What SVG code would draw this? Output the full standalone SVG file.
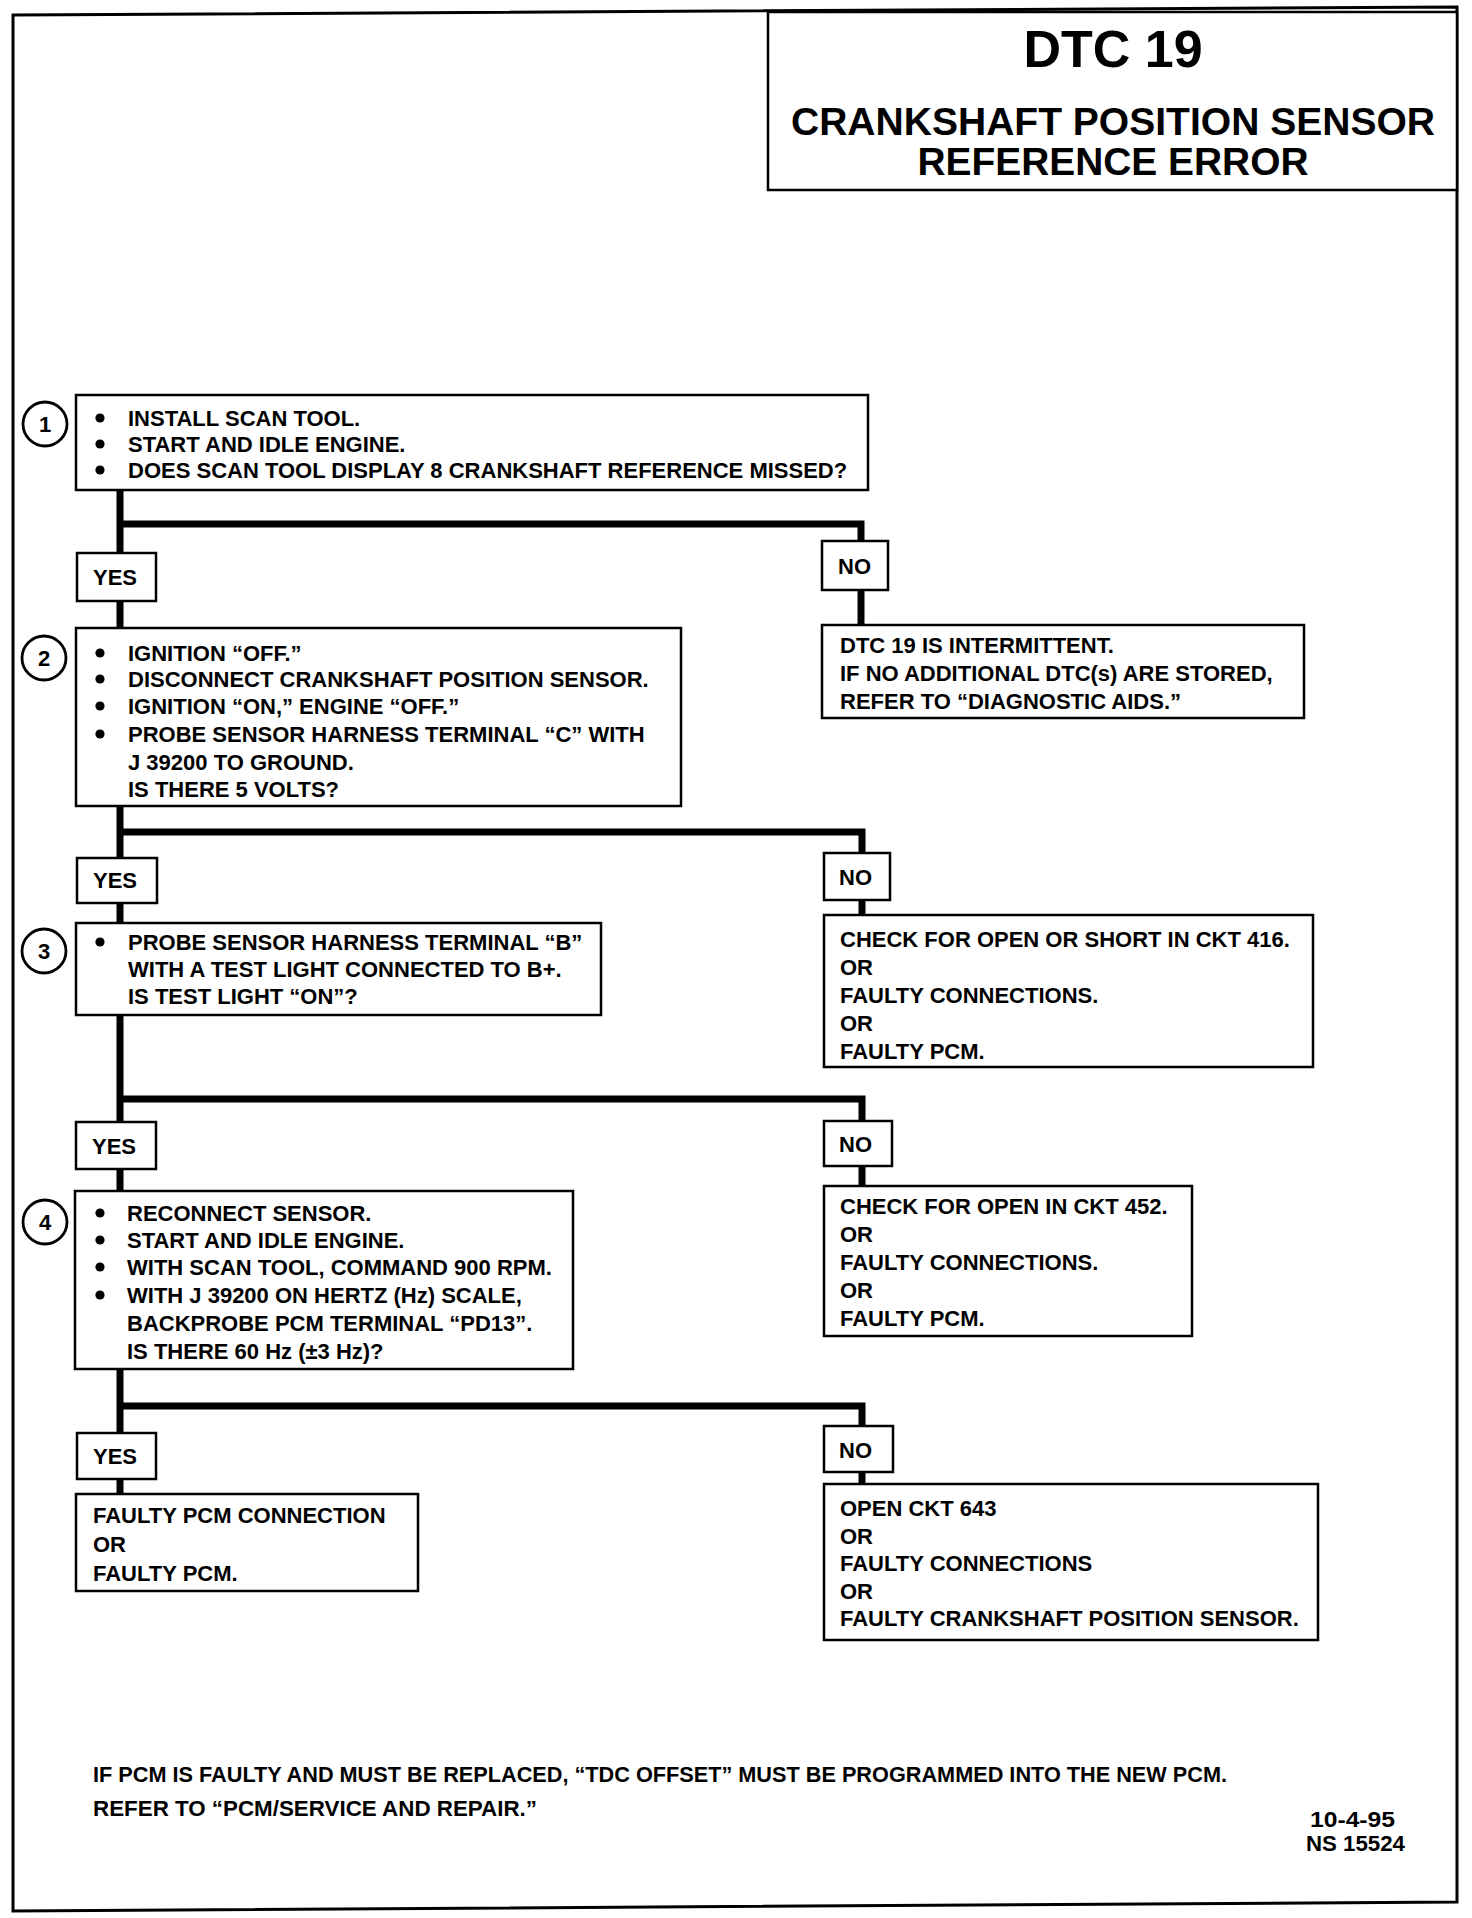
<svg xmlns="http://www.w3.org/2000/svg" width="1472" height="1918" viewBox="0 0 1472 1918">
<style>
.t{font-family:"Liberation Sans",Arial,Helvetica,sans-serif;font-weight:bold;font-size:22px;fill:#000}
.ttl{font-family:"Liberation Sans",Arial,Helvetica,sans-serif;font-weight:bold;fill:#000;text-anchor:middle}
.num{font-family:"Liberation Sans",Arial,Helvetica,sans-serif;font-weight:bold;font-size:22px;fill:#000;text-anchor:middle}
.box{fill:#fff;stroke:#000;stroke-width:2.5}
.circ{fill:#fff;stroke:#000;stroke-width:2.8}
.conn{fill:none;stroke:#000;stroke-width:7;stroke-linejoin:miter}
.frame{fill:none;stroke:#000;stroke-width:3}
</style>
<defs>
<circle id="dot" r="4.6" fill="#000"/>
</defs>
<rect x="0" y="0" width="1472" height="1918" fill="#fff"/>
<path class="frame" d="M13 15 L1457 7 L1457 1902 L13 1911 Z"/>

<g id="title">
<rect class="box" x="768" y="12" width="689" height="178"/>
<text class="ttl" x="1113" y="67" font-size="52">DTC 19</text>
<text class="ttl" x="1113" y="135" font-size="39" textLength="644" lengthAdjust="spacingAndGlyphs">CRANKSHAFT POSITION SENSOR</text>
<text class="ttl" x="1113" y="175" font-size="39" textLength="391" lengthAdjust="spacingAndGlyphs">REFERENCE ERROR</text>
</g>

<g id="connectors">
<path class="conn" d="M120 490 V628"/>
<path class="conn" d="M120 806 V923"/>
<path class="conn" d="M120 1015 V1191"/>
<path class="conn" d="M120 1369 V1494"/>
<path class="conn" d="M120 524 H861 V541"/>
<path class="conn" d="M861 590 V625"/>
<path class="conn" d="M120 832 H862 V853"/>
<path class="conn" d="M862 900 V915"/>
<path class="conn" d="M120 1099 H862 V1121"/>
<path class="conn" d="M862 1166 V1186"/>
<path class="conn" d="M120 1406 H862 V1426"/>
<path class="conn" d="M862 1472 V1484"/>
</g>

<g id="step1">
<circle class="circ" cx="45" cy="424" r="22"/>
<text class="num" x="45" y="432">1</text>
<rect class="box" x="76" y="395" width="792" height="95"/>
<use href="#dot" x="100" y="418"/>
<use href="#dot" x="100" y="444"/>
<use href="#dot" x="100" y="470"/>
<text class="t" x="128" y="426">INSTALL SCAN TOOL.</text>
<text class="t" x="128" y="452">START AND IDLE ENGINE.</text>
<text class="t" x="128" y="478">DOES SCAN TOOL DISPLAY 8 CRANKSHAFT REFERENCE MISSED?</text>
</g>

<g id="yes1">
<rect class="box" x="77" y="553" width="79" height="48"/>
<text class="t" x="93" y="585">YES</text>
</g>
<g id="no1">
<rect class="box" x="822" y="541" width="66" height="49"/>
<text class="t" x="838" y="574">NO</text>
</g>
<g id="intermittent">
<rect class="box" x="822" y="625" width="482" height="93"/>
<text class="t" x="840" y="653">DTC 19 IS INTERMITTENT.</text>
<text class="t" x="840" y="681">IF NO ADDITIONAL DTC(s) ARE STORED,</text>
<text class="t" x="840" y="709">REFER TO “DIAGNOSTIC AIDS.”</text>
</g>

<g id="step2">
<circle class="circ" cx="44" cy="658" r="22"/>
<text class="num" x="44" y="666">2</text>
<rect class="box" x="76" y="628" width="605" height="178"/>
<use href="#dot" x="100" y="653"/>
<use href="#dot" x="100" y="679"/>
<use href="#dot" x="100" y="706"/>
<use href="#dot" x="100" y="734"/>
<text class="t" x="128" y="661">IGNITION “OFF.”</text>
<text class="t" x="128" y="687">DISCONNECT CRANKSHAFT POSITION SENSOR.</text>
<text class="t" x="128" y="714">IGNITION “ON,” ENGINE “OFF.”</text>
<text class="t" x="128" y="742">PROBE SENSOR HARNESS TERMINAL “C” WITH</text>
<text class="t" x="128" y="770">J 39200 TO GROUND.</text>
<text class="t" x="128" y="797">IS THERE 5 VOLTS?</text>
</g>

<g id="yes2">
<rect class="box" x="77" y="858" width="80" height="45"/>
<text class="t" x="93" y="888">YES</text>
</g>
<g id="no2">
<rect class="box" x="824" y="853" width="66" height="47"/>
<text class="t" x="839" y="885">NO</text>
</g>
<g id="check416">
<rect class="box" x="824" y="915" width="489" height="152"/>
<text class="t" x="840" y="947">CHECK FOR OPEN OR SHORT IN CKT 416.</text>
<text class="t" x="840" y="975">OR</text>
<text class="t" x="840" y="1003">FAULTY CONNECTIONS.</text>
<text class="t" x="840" y="1031">OR</text>
<text class="t" x="840" y="1059">FAULTY PCM.</text>
</g>

<g id="step3">
<circle class="circ" cx="44" cy="951" r="22"/>
<text class="num" x="44" y="959">3</text>
<rect class="box" x="76" y="923" width="525" height="92"/>
<use href="#dot" x="100" y="942"/>
<text class="t" x="128" y="950">PROBE SENSOR HARNESS TERMINAL “B”</text>
<text class="t" x="128" y="977">WITH A TEST LIGHT CONNECTED TO B+.</text>
<text class="t" x="128" y="1004">IS TEST LIGHT “ON”?</text>
</g>

<g id="yes3">
<rect class="box" x="76" y="1122" width="80" height="47"/>
<text class="t" x="92" y="1154">YES</text>
</g>
<g id="no3">
<rect class="box" x="824" y="1121" width="68" height="45"/>
<text class="t" x="839" y="1152">NO</text>
</g>
<g id="check452">
<rect class="box" x="824" y="1186" width="368" height="150"/>
<text class="t" x="840" y="1214">CHECK FOR OPEN IN CKT 452.</text>
<text class="t" x="840" y="1242">OR</text>
<text class="t" x="840" y="1270">FAULTY CONNECTIONS.</text>
<text class="t" x="840" y="1298">OR</text>
<text class="t" x="840" y="1326">FAULTY PCM.</text>
</g>

<g id="step4">
<circle class="circ" cx="45" cy="1222" r="22"/>
<text class="num" x="45" y="1230">4</text>
<rect class="box" x="75" y="1191" width="498" height="178"/>
<use href="#dot" x="100" y="1213"/>
<use href="#dot" x="100" y="1240"/>
<use href="#dot" x="100" y="1267"/>
<use href="#dot" x="100" y="1295"/>
<text class="t" x="127" y="1221">RECONNECT SENSOR.</text>
<text class="t" x="127" y="1248">START AND IDLE ENGINE.</text>
<text class="t" x="127" y="1275">WITH SCAN TOOL, COMMAND 900 RPM.</text>
<text class="t" x="127" y="1303">WITH J 39200 ON HERTZ (Hz) SCALE,</text>
<text class="t" x="127" y="1331">BACKPROBE PCM TERMINAL “PD13”.</text>
<text class="t" x="127" y="1359">IS THERE 60 Hz (±3 Hz)?</text>
</g>

<g id="yes4">
<rect class="box" x="77" y="1433" width="79" height="46"/>
<text class="t" x="93" y="1464">YES</text>
</g>
<g id="no4">
<rect class="box" x="824" y="1426" width="69" height="46"/>
<text class="t" x="839" y="1458">NO</text>
</g>
<g id="faultypcm">
<rect class="box" x="76" y="1494" width="342" height="97"/>
<text class="t" x="93" y="1523">FAULTY PCM CONNECTION</text>
<text class="t" x="93" y="1552">OR</text>
<text class="t" x="93" y="1581">FAULTY PCM.</text>
</g>
<g id="open643">
<rect class="box" x="824" y="1484" width="494" height="156"/>
<text class="t" x="840" y="1516">OPEN CKT 643</text>
<text class="t" x="840" y="1544">OR</text>
<text class="t" x="840" y="1571">FAULTY CONNECTIONS</text>
<text class="t" x="840" y="1599">OR</text>
<text class="t" x="840" y="1626">FAULTY CRANKSHAFT POSITION SENSOR.</text>
</g>

<g id="footer">
<text class="t" x="93" y="1782" textLength="1134" lengthAdjust="spacingAndGlyphs">IF PCM IS FAULTY AND MUST BE REPLACED, “TDC OFFSET” MUST BE PROGRAMMED INTO THE NEW PCM.</text>
<text class="t" x="93" y="1816" textLength="444" lengthAdjust="spacingAndGlyphs">REFER TO “PCM/SERVICE AND REPAIR.”</text>
<text class="t" x="1310" y="1827" font-size="17" textLength="85" lengthAdjust="spacingAndGlyphs">10-4-95</text>
<text class="t" x="1306" y="1851" font-size="17" textLength="99" lengthAdjust="spacingAndGlyphs">NS 15524</text>
</g>
</svg>
